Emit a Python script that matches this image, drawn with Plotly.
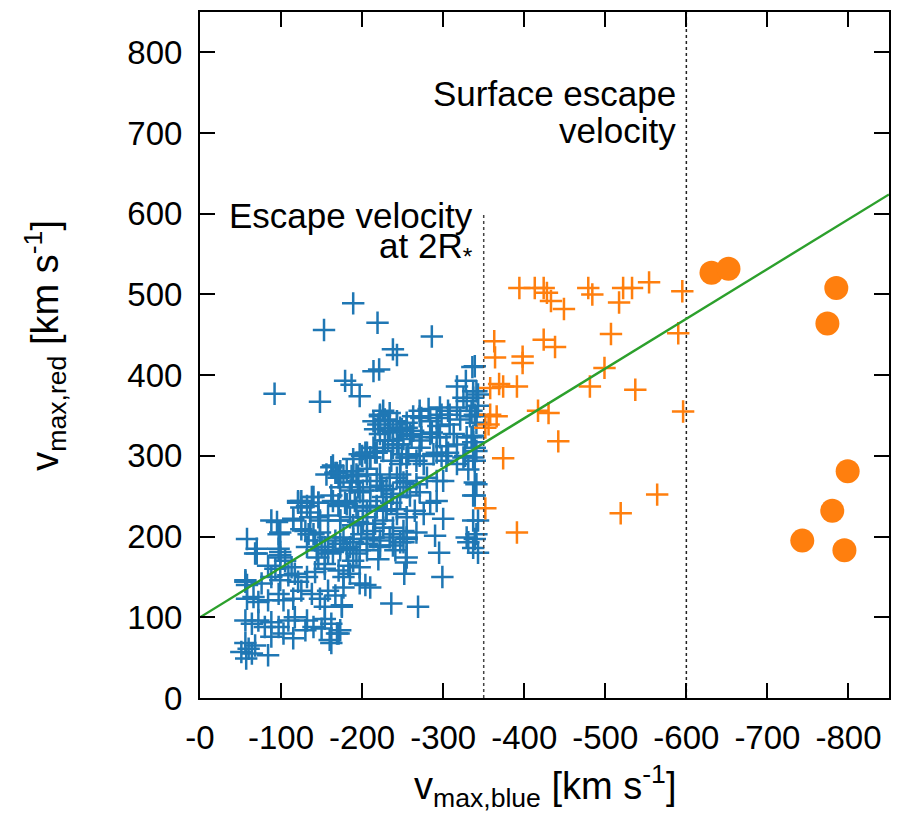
import plotly.graph_objects as go

# ---- data: (|v_max,blue|, v_max,red) pairs in km/s ----
blue_pts = [
    (189,489),(219,465),(153,456),(286,448),(238,432),(243,425),(214,405),(221,407),(179,393),(197,374),(187,388),(92,377),(148,367),(336,410),
    (317,386),(328,393),(337,380),(343,376),(325,372),(329,368),(317,360),(335,356),(341,349),(306,356),(296,360),(298,351),(282,358),(271,356),
    (273,347),(263,349),(308,339),(292,347),(294,337),(286,329),(292,323),(317,314),(335,323),(339,310),(304,312),(306,304),(271,310),(273,319),
    (226,356),(222,349),(214,343),(220,339),(232,335),(243,343),(247,335),(238,329),(255,335),(263,331),(259,327),(228,319),(238,319),(245,314),
    (206,304),(216,304),(200,300),(249,302),(257,302),(271,300),(292,304),(298,300),(327,300),(337,298),
    (222,351),(228,345),(234,353),(216,333),(222,327),(234,331),(243,339),(249,333),(255,341),(232,319),(243,314),(251,321),(204,304),(210,298),
    (218,304),(236,294),(247,290),(255,298),(162,286),(167,279),(173,281),(189,281),(195,275),(206,277),(218,269),(224,263),(230,259),(187,267),
    (195,261),(201,257),(243,273),(251,267),(255,261),
    (140,249),(146,242),(132,238),(125,244),(164,244),(171,238),(179,242),(191,244),(201,238),(210,244),(218,238),(226,249),(236,242),(243,234),
    (230,234),(136,224),(148,220),(158,226),(173,220),(185,224),(195,218),(206,224),(216,216),(226,220),(238,211),(251,207),(130,207),(140,203),
    (148,205),(158,199),(167,195),(177,199),(189,197),(199,203),(206,197),(214,199),(222,195),(234,199),(247,193),(132,187),(144,183),(154,187),
    (164,181),(181,185),(193,179),(206,183),(222,187),(241,183),(255,197),(255,174),
    (271,349),(284,343),(308,351),(321,345),(333,349),(341,341),(261,325),(273,323),(284,327),(296,323),(313,327),(329,323),(337,317),(214,310),
    (226,306),(238,310),(197,302),(210,298),(189,296),(255,298),(267,294),(276,290),(288,302),(304,294),(317,290),(325,298),(331,283),
    (181,281),(193,277),(206,284),(222,277),(234,273),(247,277),(255,269),(267,265),(280,273),(292,269),(300,269),(339,267),(339,251),(173,261),
    (185,257),(197,255),(210,261),(226,257),(238,253),(247,249),(259,251),(271,255),(284,242),(292,244),(181,240),(193,236),(206,232),(218,236),
    (230,232),(243,228),(255,224),(265,232),(276,228),(300,222),(173,220),(189,214),(201,216),(214,207),(226,211),(238,203),(255,199),(267,205),
    (290,201),(337,220),(339,197),(329,199),(173,191),(189,193),(206,191),(222,189),
    (238,189),(251,193),(295,180),(343,180),(331,193),(254,168),(252,154),(299,150),(220,172),(236,117),(269,113),(204,140),(210,137),(197,142),
    (175,113),(173,84),(177,137),(189,170),(197,162),(173,183),(185,187),(197,183),(177,150),(185,154),
    (156,277),(171,273),(187,275),(195,269),(121,242),(125,236),(138,249),(146,242),(162,251),(171,240),(136,230),(146,224),(88,220),(95,218),
    (115,220),(125,209),(134,203),(58,197),(97,203),(70,179),(97,185),(99,177),(142,195),(150,187),(158,179),(146,174),(154,166),
    (84,164),(93,160),(105,170),(113,162),(117,154),(56,146),(58,140),(76,142),(88,150),(99,146),(109,152),(121,144),(132,150),(142,156),
    (154,160),(171,158),(183,164),(66,125),(72,119),(84,121),(97,129),(103,121),(115,123),(125,133),(138,129),(148,123),(158,133),(167,127),
    (175,115),(154,113),
    (56,96),(64,92),(72,96),(80,88),(88,94),(97,88),(109,96),(117,100),(132,96),(140,88),(154,98),(162,92),(150,86),(88,76),(103,80),(115,74),
    (130,84),(162,68),(171,80),(56,68),(60,61),(64,55),(51,57),(57,49),(68,65),(84,53),
    (68,179),(99,181),(99,174),(56,144),(58,123),(169,80),(160,72),(164,288),(169,279),(177,275),(121,244),(115,222),(99,205),(70,185),
    (339,411),(341,380),(337,372),(343,362),(339,351),(337,325),(341,306),(339,294),(341,265),(337,251),(343,220),(341,203),(337,186),
]
blue_x = [p[0] for p in blue_pts]
blue_y = [p[1] for p in blue_pts]

orange_pts = [
    (394,508),(413,508),(424,508),(428,502),(433,492),(449,482),(479,508),(484,500),(522,508),(533,508),(517,490),(554,515),(595,504),
    (507,451),(590,452),(363,442),(364,422),(398,423),(398,415),(424,444),(438,435),(499,409),(369,389),(374,386),(358,384),(391,386),
    (481,386),(537,382),(417,356),(430,353),(596,355),(358,351),(366,349),(356,339),(352,335),(442,318),(374,297),(564,252),(352,235),
    (519,229),(391,205),
]
orange_x = [p[0] for p in orange_pts]
orange_y = [p[1] for p in orange_pts]

extreme_x = [631, 652, 785, 774, 799, 780, 743, 795]
extreme_y = [527, 532, 508, 464, 281, 232, 195, 183]

fit_x = [0, 850]
fit_y = [100, 624]

esc2_x = [350, 350]
esc2_y = [0, 600]
surf_x = [600, 600]
surf_y = [0, 850]

x_ticks = [0, 100, 200, 300, 400, 500, 600, 700, 800]
x_ticktext = ["-0", "-100", "-200", "-300", "-400", "-500", "-600", "-700", "-800"]
y_ticks = [0, 100, 200, 300, 400, 500, 600, 700, 800]

BLUE = "#1f77b4"
ORANGE = "#ff7f0e"
GREEN = "#2ca02c"
FONT = "Liberation Sans"

fig = go.Figure()
fig.add_trace(go.Scatter(x=blue_x, y=blue_y, mode="markers",
                         marker=dict(symbol="cross-thin", size=16, color=BLUE,
                                     line=dict(color=BLUE, width=2.5)),
                         showlegend=False))
fig.add_trace(go.Scatter(x=orange_x, y=orange_y, mode="markers",
                         marker=dict(symbol="cross-thin", size=16, color=ORANGE,
                                     line=dict(color=ORANGE, width=2.5)),
                         showlegend=False))
fig.add_trace(go.Scatter(x=extreme_x, y=extreme_y, mode="markers",
                         marker=dict(symbol="circle", size=24, color=ORANGE,
                                     line=dict(width=0)),
                         showlegend=False))
fig.add_trace(go.Scatter(x=esc2_x, y=esc2_y, mode="lines",
                         line=dict(color="#444444", width=1.5, dash="dot"),
                         showlegend=False))
fig.add_trace(go.Scatter(x=surf_x, y=surf_y, mode="lines",
                         line=dict(color="#222222", width=1.5, dash="dot"),
                         showlegend=False))
fig.add_trace(go.Scatter(x=fit_x, y=fit_y, mode="lines",
                         line=dict(color=GREEN, width=2.4),
                         showlegend=False))

axis_common = dict(showline=True, linecolor="black", linewidth=2, mirror="ticks",
                   ticks="inside", ticklen=15, tickwidth=2, tickcolor="black",
                   showgrid=False, zeroline=False, ticklabelstandoff=9,
                   tickfont=dict(family=FONT, size=33, color="black"))

fig.update_xaxes(range=[0, 850], tickvals=x_ticks, ticktext=x_ticktext, **axis_common)
fig.update_yaxes(range=[0, 850], tickvals=y_ticks, **axis_common)

ann_font = dict(family=FONT, size=35, color="black")
fig.add_annotation(x=339, y=598, xref="x", yref="y", text="Escape velocity",
                   showarrow=False, xanchor="right", yanchor="middle", font=ann_font)
fig.add_annotation(x=339, y=558, xref="x", yref="y", text="at 2R<sub>*</sub>",
                   showarrow=False, xanchor="right", yanchor="middle", font=ann_font)
fig.add_annotation(x=590, y=749, xref="x", yref="y", text="Surface escape",
                   showarrow=False, xanchor="right", yanchor="middle", font=ann_font)
fig.add_annotation(x=590, y=703, xref="x", yref="y", text="velocity",
                   showarrow=False, xanchor="right", yanchor="middle", font=ann_font)

# axis titles
title_font = dict(family=FONT, size=38, color="black")
fig.add_annotation(x=0.5, y=-0.128, xref="paper", yref="paper",
                   text="v<sub>max,blue</sub> [km s<sup>-1</sup>]",
                   showarrow=False, xanchor="center", yanchor="middle", font=title_font)
fig.add_annotation(x=-0.225, y=0.515, xref="paper", yref="paper",
                   text="v<sub>max,red</sub> [km s<sup>-1</sup>]", textangle=-90,
                   showarrow=False, xanchor="center", yanchor="middle", font=title_font)

fig.update_layout(width=908, height=815,
                  margin=dict(l=200, r=19, t=10, b=117),
                  plot_bgcolor="white", paper_bgcolor="white")

fig.write_html("out.html")
